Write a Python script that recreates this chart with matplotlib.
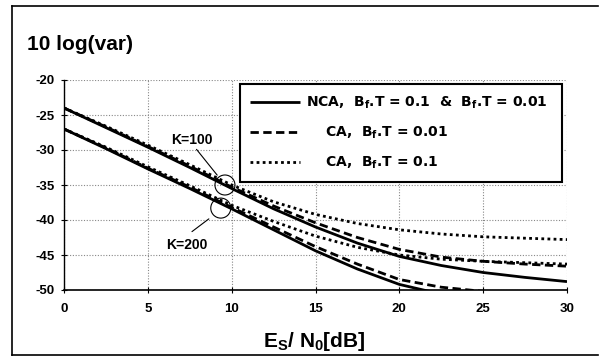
import matplotlib
matplotlib.use("Agg")
import matplotlib.pyplot as plt
from matplotlib.lines import Line2D
from matplotlib.patches import Ellipse

# Es/N0 [dB] and 10 log(var)
snr = [0, 2.5, 5, 7.5, 10, 12.5, 15, 17.5, 20, 22.5, 25, 27.5, 30]

nca_k100 = [-24.0, -26.8, -29.6, -32.5, -35.5, -38.4, -41.0, -43.3, -45.2, -46.5, -47.5, -48.2, -48.8]
ca001_k100 = [-24.0, -26.7, -29.5, -32.3, -35.3, -38.0, -40.4, -42.5, -44.2, -45.3, -45.9, -46.3, -46.6]
ca01_k100 = [-24.0, -26.6, -29.3, -32.1, -35.0, -37.4, -39.2, -40.5, -41.4, -42.0, -42.4, -42.6, -42.8]

nca_k200 = [-27.0, -29.8, -32.7, -35.5, -38.4, -41.4, -44.4, -47.0, -49.2, -50.6, -51.8, -52.8, -53.6]
ca001_k200 = [-27.0, -29.7, -32.6, -35.3, -38.2, -41.0, -43.8, -46.3, -48.5, -49.6, -50.2, -50.9, -51.4]
ca01_k200 = [-27.0, -29.6, -32.4, -35.1, -37.9, -40.2, -42.3, -43.9, -45.0, -45.6, -45.9, -46.1, -46.3]

legend_labels = ["NCA,  $B_f$.T = 0.1  &  $B_f$.T = 0.01",
                 "    CA,  $B_f$.T = 0.01",
                 "    CA,  $B_f$.T = 0.1"]

# annotation marks (circle centres, label positions, leader ends)
circles = [(9.6, -35.0), (9.35, -38.3)]
k_labels = ["K=100", "K=200"]
k_text_pos = [(7.6, -28.5), (7.3, -43.6)]
k_arrow_end = [(9.24, -33.9), (8.77, -39.6)]
k_text_anchor = ["bottom", "top"]

plt.rcParams['mathtext.default'] = 'regular'
plt.rcParams['axes.unicode_minus'] = False
plt.rcParams['font.family'] = ['Liberation Sans', 'DejaVu Sans']

fig = plt.figure(figsize=(6.02, 3.58), dpi=100, facecolor='w')
ax = fig.add_axes([64/602, 1-290/358, 503/602, 210/358])

lw = 2.0
dash = (3.0, 1.6)
dot = (1.0, 1.2)

h1, = ax.plot(snr, nca_k100, color='k', lw=lw, solid_capstyle='butt')
h2, = ax.plot(snr, ca001_k100, color='k', lw=lw, dashes=dash)
h3, = ax.plot(snr, ca01_k100, color='k', lw=lw, dashes=dot)
ax.plot(snr, nca_k200, color='k', lw=lw, solid_capstyle='butt')
ax.plot(snr, ca001_k200, color='k', lw=lw, dashes=dash)
ax.plot(snr, ca01_k200, color='k', lw=lw, dashes=dot)

ax.set_xlim(0, 30)
ax.set_ylim(-50, -20)
ax.set_xticks(range(0, 31, 5))
ax.set_yticks(range(-50, -19, 5))
ax.grid(True, color='#888888', linestyle=(0, (1, 1.5)), linewidth=0.8)
ax.set_axisbelow(True)
for s in ['top', 'right']:
    ax.spines[s].set_visible(False)
ax.spines['left'].set_linewidth(1.0)
ax.spines['bottom'].set_linewidth(1.2)
ax.tick_params(direction='inout', length=4, width=0.8)
ax.tick_params(axis='y', pad=5)
ax.tick_params(axis='x', pad=7)
for lab in ax.get_xticklabels() + ax.get_yticklabels():
    lab.set_fontweight('bold')
    lab.set_fontsize(9.5)

# circles and K labels
for (cx, cy) in circles:
    ax.add_patch(Ellipse((cx, cy), 20/16.77, 20/7.0, fill=False, ec='k', lw=0.8))
for lab, tp, ap, va in zip(k_labels, k_text_pos, k_arrow_end, k_text_anchor):
    ax.text(tp[0], tp[1], lab, ha='center', va='center', fontsize=10, fontweight='bold')
    ty = tp[1] - 1.1 if va == "bottom" else tp[1] + 1.7
    ax.annotate("", xy=ap, xytext=(tp[0] + 0.2, ty),
                arrowprops=dict(arrowstyle='-', color='k', lw=0.8))

leg = ax.legend([h1, h2, h3], legend_labels, loc='upper left',
                bbox_to_anchor=(0.35, 0.981, 0.64, 0.0), mode='expand',
                prop={'family': 'DejaVu Sans', 'weight': 'bold', 'size': 10},
                handlelength=3.6, handletextpad=0.4, labelspacing=1.0,
                borderpad=0.75, borderaxespad=0, fancybox=False,
                framealpha=1, edgecolor='k')
leg.get_frame().set_linewidth(1.5)

fig.text(27/602, 1-45/358, "10 log(var)", fontsize=15, fontweight='bold',
         va='center', ha='left')
fig.text(314/602, 1-347/358, "E$_S$/ N$_0$[dB]", fontsize=15, fontweight='bold',
         va='baseline', ha='center')

# outer frame (left, top, bottom)
fig.add_artist(Line2D([12/602, 12/602], [1-355/358, 1-6/358], color='k', lw=1.2))
fig.add_artist(Line2D([12/602, 598/602], [1-6/358, 1-6/358], color='k', lw=1.2))
fig.add_artist(Line2D([12/602, 598/602], [1-355/358, 1-355/358], color='k', lw=1.2))

fig.savefig("out.png", dpi=100)
